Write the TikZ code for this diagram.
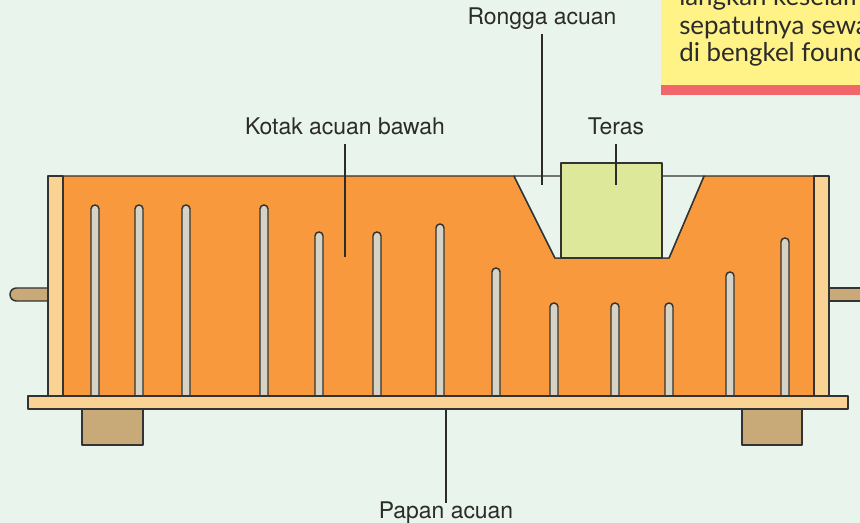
\documentclass[tikz,border=0pt]{standalone}
\usepackage{fontspec}
\setmainfont{TeX Gyre Heros}
\newfontfamily\notefont{Lato}
\usetikzlibrary{positioning}

\definecolor{bgGreen}{HTML}{E9F4EC}
\definecolor{sandOrange}{HTML}{F7993C}
\definecolor{plankYellow}{HTML}{F8D394}
\definecolor{pinTan}{HTML}{C8AA78}
\definecolor{rodGrey}{HTML}{D5D3C6}
\definecolor{coreGreen}{HTML}{DDE89B}
\definecolor{edgeGrey}{HTML}{333333}
\definecolor{noteYellow}{HTML}{FFF287}
\definecolor{noteRed}{HTML}{F0666B}
\definecolor{inkGrey}{HTML}{2B2B2B}

\begin{document}
\begin{tikzpicture}[x=0.75pt, y=-0.75pt,
        part/.style = {
            draw=edgeGrey,
            line width=1.1pt,
            line join=round
        },
        plank/.style = {part, fill=plankYellow},
        pin/.style = {part, fill=pinTan},
        rod/.style = {part, fill=rodGrey},
        tag/.style = {
            font=\fontsize{17.2}{20}\selectfont,
            text=inkGrey,
            inner xsep=0pt,
            inner ysep=3.9pt,
            text height=0.75em,
            text depth=0.25em,
            anchor=base
        },
        note/.style = {
            font=\notefont\fontsize{19.4}{21}\selectfont,
            text=inkGrey,
            inner sep=0pt,
            anchor=base west
        },
        leader/.style = {draw=inkGrey, line width=1pt}
    ]

    \useasboundingbox (0,0) rectangle (860,523);
    \clip (0,0) rectangle (860,523);
    \fill[bgGreen] (0,0) rectangle (860,523);

    % reminder box in the corner
    \fill[noteYellow] (661,-5) rectangle (870,85);
    \fill[noteRed] (661,85) rectangle (870,95);
    \node[note] (note_1) at (679,5.3) {langkah keselamatan};
    \node[note] (note_2) at (679,34.3) {sepatutnya sewaktu};
    \node[note] (note_3) at (679,61.7) {di bengkel foundri};

    % handles
    \draw[pin] (50,288) [rounded corners=4.8pt] -- (10,288) -- (10,301) [sharp corners] -- (50,301);
    \fill[pinTan] (827,288) rectangle (870,301);
    \draw[part] (827,288) -- (870,288) (870,301) -- (827,301);

    % sand with the mould cavity
    \draw[part, fill=sandOrange] (63,176) -- (514,176) -- (555,258) -- (669,258)
        -- (704,176) -- (814,176) -- (814,396) -- (63,396) -- cycle;
    \draw[part, fill=bgGreen] (514,176) -- (555,258) -- (669,258) -- (704,176) -- cycle;

    % core
    \draw[part, fill=coreGreen] (561,163) rectangle (662,258);

    % vent wires
    \foreach \x/\top in {95/205, 139/205, 186/205, 264/205, 319/232, 377/232,
                         440/224, 496/268, 554/303, 615/303, 669/303, 730/272, 785/238}
        \draw[rod] (\x-4,397) [rounded corners=2.9pt] -- (\x-4,\top) -- (\x+4,\top)
            [sharp corners] -- (\x+4,397);

    % box sides
    \draw[plank] (48,176) rectangle (63,396);
    \draw[plank] (814,176) rectangle (829,396);

    % feet and board
    \draw[pin] (82,405) rectangle (143,445);
    \draw[pin] (742,405) rectangle (802,445);
    \draw[plank] (28,396) rectangle (848,409);

    % labels
    \node[tag] (rongga) at (542,25) {Rongga acuan};
    \node[tag] (kotak) at (345,135) {Kotak acuan bawah};
    \node[tag] (teras) at (616,135) {Teras};
    \node[tag] (papan) at (446,518) {Papan acuan};

    \coordinate (rongga_tip) at (542,185);
    \coordinate (kotak_tip) at (345,257);
    \coordinate (teras_tip) at (616,185);
    \coordinate (papan_tip) at (446,409);

    \draw[leader] (rongga) -- (rongga_tip);
    \draw[leader] (kotak) -- (kotak_tip);
    \draw[leader] (teras) -- (teras_tip);
    \draw[leader] (papan) -- (papan_tip);

\end{tikzpicture}
\end{document}
